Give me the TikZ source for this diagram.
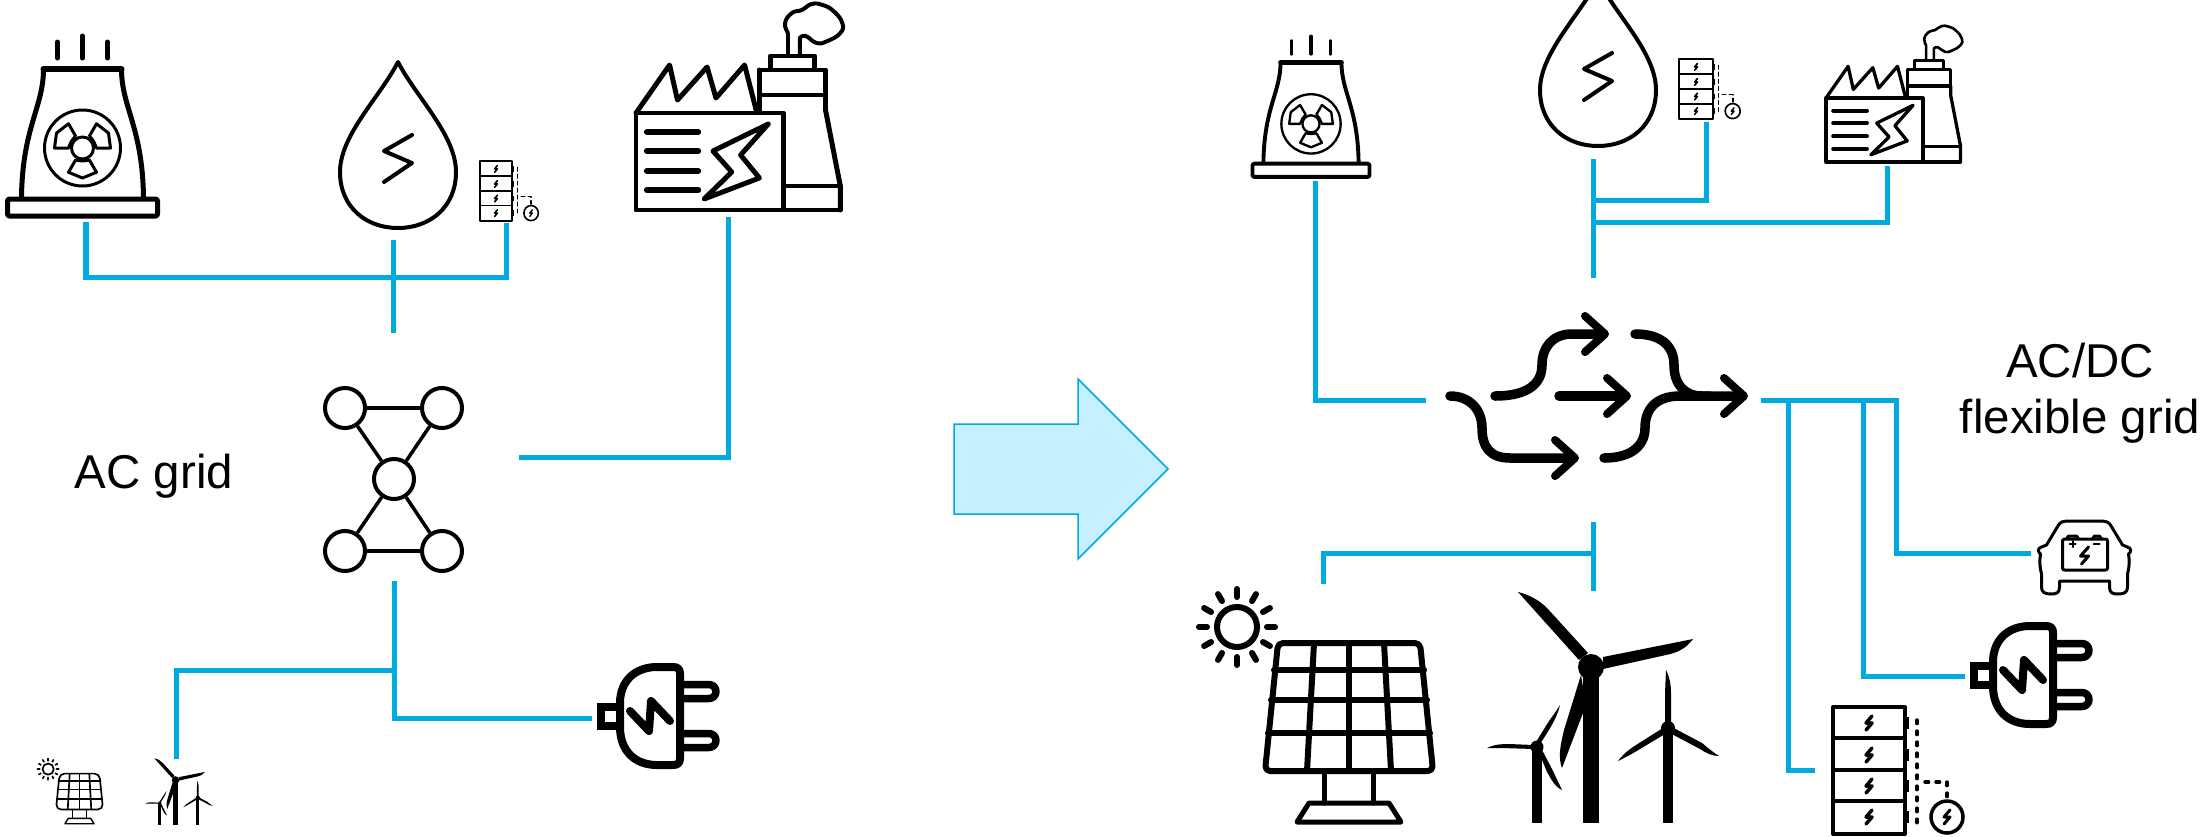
\documentclass[tikz,border=0pt]{standalone}
\usepackage{fontspec}
\setmainfont{Liberation Sans}
\usetikzlibrary{arrows.meta, positioning}
\definecolor{wireblue}{HTML}{00A9DE}
\definecolor{arrowfill}{HTML}{C5F0FF}
\def\ks{1}
\tikzset{
  ink/.style={draw=black, line width=#1*\ks*0.01cm, line join=round, line cap=round},
  icon size/.code 2 args={\pgfmathsetmacro\ks{(#1+#2)/2}\tikzset{xscale=#1,yscale=#2}},
  pics/tower/.style={code={
    \foreach \sx in {-25,25} \draw[ink=5] (\sx,-85) -- (\sx,-69);
    \draw[ink=5] (0,-91) -- (0,-69);
    \draw[ink=6] (-39,-58) -- (39,-58);
    \draw[ink=5] (-39,-58) .. controls (-39,-20) and (-60,0) .. (-61,70);
    \draw[ink=5] (39,-58) .. controls (39,-20) and (60,0) .. (61,70);
    \draw[ink=5, rounded corners=0.02cm] (-75,72) rectangle (75,89);
    \draw[ink=3] (0,21) circle[radius=38];
    \draw[ink=3] (0,21) circle[radius=11];
    \foreach \a in {90,210,330}
      \draw[ink=3, shift={(0,21)}] ({\a-30}:14) -- ({\a-30}:28) -- (\a:30) -- ({\a+30}:28) -- ({\a+30}:14) -- (\a:13) -- cycle;
  }},
  pics/droplet/.style={code={
    \draw[ink=4] (0,-83) .. controls (-18,-48) and (-58,-10) .. (-58,27)
      .. controls (-58,62) and (-32,83) .. (0,83)
      .. controls (32,83) and (58,62) .. (58,27)
      .. controls (58,-10) and (18,-48) .. cycle;
    \draw[ink=4] (14,-10) -- (-14,6) -- (14,18) -- (-14,37);
  }},
  pics/storage/.style={code={
    \pgfmathsetlengthmacro\dotgap{\ks*0.075cm}
    \draw[ink=4] (-36,-63) rectangle (36,64);
    \foreach \ly in {-32,0,31} \draw[ink=4] (-36,\ly) -- (36,\ly);
    \foreach \ly in {-47,-15,16,47} {
      \fill[black] (36,\ly-6) rectangle (40,\ly+6);
      \draw[ink=3.5] (3,\ly-7) -- (-3,\ly) -- (3,\ly) -- (-3,\ly+7);
    }
    \draw[ink=3.5, dash pattern=on 1pt off \dotgap] (48,-50) -- (48,53);
    \draw[ink=3.5, dash pattern=on 1pt off \dotgap] (56,12) -- (78,12) -- (78,30);
    \draw[ink=3.5] (78,47) circle[radius=16];
    \draw[ink=3, shift={(75,0)}] (6,40) -- (0,47) -- (6,47) -- (0,54);
  }},
  pics/factory/.style={code={
    \draw[ink=5] (0,0) -- (34,-48) -- (42,-13) -- (72,-46) -- (81,-15) -- (110,-48) -- (122,-2);
    \draw[ink=5] (125,-43) -- (125,-2);
    \draw[ink=5] (125,-43) rectangle (192,-18);
    \draw[ink=5] (192,-18) -- (192,-3) -- (207,73) -- (207,97);
    \draw[ink=5] (149,73) rectangle (207,97);
    \draw[ink=5] (136,-57) rectangle (181,-43);
    \draw[ink=5] (0,0) rectangle (149,97);
    \foreach \ly in {19,38,58,77} \draw[ink=6] (11,\ly) -- (63,\ly);
    \draw[ink=5] (134,11) -- (78,38) -- (97,59) -- (69,86) -- (125,65) -- (106,42) -- cycle;
    \draw[ink=4] (154,-57) -- (154,-80) plot[smooth, tension=0.8] coordinates {(154,-80) (151,-90) (158,-100) (168,-103) (178,-109) (189,-108) (200,-102) (209,-90) (207,-80) (194,-72) (183,-70) (172,-77) (166,-75)} -- (166,-57);
  }},
  pics/plug/.style={code={
    \draw[ink=8, line join=miter] (4,44) rectangle (27,63);
    \draw[ink=8, fill=white] (76,4) -- (60,4) .. controls (38,4) and (23,18) .. (23,40) -- (23,64)
      .. controls (23,88) and (38,102) .. (60,102) -- (76,102) .. controls (81,102) and (83,100) .. (83,95)
      -- (83,11) .. controls (83,6) and (81,4) .. (76,4) -- cycle;
    \foreach \ly in {28.5,77.5}
      \draw[ink=7.5] (85,\ly-7) -- (112,\ly-7) arc[start angle=-90, end angle=90, radius=7] -- (85,\ly+7);
    \draw[ink=8] (33,48) -- (52,68) -- (54,38) -- (73,58);
  }},
  pics/solarpanel/.style={code={
    \draw[ink=6, rounded corners=0.05cm] (-71,-64) -- (71,-64) -- (84,64) -- (-84,64) -- cycle;
    \draw[ink=6] (-75,-37) -- (75,-37);
    \draw[ink=6] (-78,-7) -- (78,-7);
    \draw[ink=6] (-81,26) -- (81,26);
    \draw[ink=6] (-35,-64) -- (-42,64);
    \draw[ink=6] (0,-64) -- (0,64);
    \draw[ink=6] (35,-64) -- (42,64);
    \draw[ink=5] (-25,64) -- (-25,96);
    \draw[ink=5] (24,64) -- (24,96);
    \draw[ink=5] (-40,96) -- (40,96) -- (52,115) -- (-52,115) -- cycle;
    \draw[ink=6] (-112,-80) circle[radius=20];
    \foreach \a in {0,30,...,330}
      \draw[ink=6, shift={(-112,-80)}] (\a:30) -- (\a:38);
  }},
  pics/turbines/.style={code={
    %% main turbine
    \fill[black] (0,0) circle[radius=13];
    \fill[black] (-8,8) -- (8,8) -- (8,156) -- (-8,156) -- cycle;
    \fill[black] (-73,-75) .. controls (-60,-72) and (-50,-65) .. (-44,-59) -- (-3,-14) -- (-12,-7) -- cycle;
    \fill[black] (102,-28) .. controls (95,-18) and (85,-14) .. (75,-12) -- (12,2) -- (12,-10) -- cycle;
    \fill[black] (-29,101) .. controls (-33,90) and (-31,80) .. (-27,63) -- (-10,8) -- (-5,38) -- cycle;
    %% left turbine
    \begin{scope}[shift={(-54,80)}]
      \fill[black] (0,0) circle[radius=6.5];
      \fill[black] (-5,3) -- (5,3) -- (5,76) -- (-5,76) -- cycle;
      \fill[black] (23,-42) .. controls (20,-28) and (10,-14) .. (3,-3) -- (-1,-5) -- (12,-26) .. controls (17,-33) and (20,-37) .. cycle;
      \fill[black] (-50,1) .. controls (-42,-3) and (-34,-3) .. (-28,-3) -- (-3,-2) -- (-3,2) -- (-36,1) -- cycle;
      \fill[black] (25,43) .. controls (18,40) and (14,32) .. (10,25) -- (1,3) -- (4,1) -- (15,22) -- cycle;
    \end{scope}
    %% right turbine
    \begin{scope}[shift={(77,61)}]
      \fill[black] (0,0) circle[radius=7];
      \fill[black] (-5,3) -- (5,3) -- (5,95) -- (-5,95) -- cycle;
      \fill[black] (-2,-58) .. controls (2,-50) and (3,-42) .. (3,-35) -- (3,-3) -- (-3,-3) -- (-3,-35) -- cycle;
      \fill[black] (-50,33) .. controls (-44,25) and (-38,21) .. (-32,17) -- (-2,-2) -- (2,3) -- (-28,21) .. controls (-36,26) and (-44,30) .. cycle;
      \fill[black] (51,28) .. controls (44,28) and (38,25) .. (32,21) -- (-2,3) -- (2,-2) -- (34,15) .. controls (40,20) and (46,25) .. cycle;
    \end{scope}
  }},
  pics/evcar/.style={code={
    \draw[ink=3] (-25,24) -- (-25,30) .. controls (-25,36) and (-28,37) .. (-34,37)
      .. controls (-40,37) and (-43,35) .. (-43,30) -- (-43,17) .. controls (-45,10) and (-45,3) .. (-44,-3)
      .. controls (-47,-5) and (-47,-9) .. (-43,-10) -- (-38,-12) -- (-26,-32)
      .. controls (-24,-35) and (-21,-36) .. (-18,-36) -- (18,-36)
      .. controls (21,-36) and (24,-35) .. (26,-32) -- (38,-12) -- (43,-10)
      .. controls (47,-9) and (47,-5) .. (44,-3) .. controls (45,3) and (45,10) .. (43,17)
      -- (43,30) .. controls (43,35) and (40,37) .. (34,37) .. controls (28,37) and (25,36) .. (25,30)
      -- (25,24) -- cycle;
    \draw[ink=3, rounded corners=0.02cm] (-22,-18) rectangle (23,13);
    \draw[ink=3] (-18,-18) -- (-16,-21) -- (-8,-21) -- (-6,-18);
    \draw[ink=3] (8,-18) -- (10,-21) -- (15,-21) -- (17,-18);
    \draw[ink=2] (-15,-13) -- (-9,-13) (-12,-16) -- (-12,-10);
    \draw[ink=2] (9,-13) -- (15,-13);
    \draw[ink=3] (4,-10) -- (-4,-1) -- (4,-1) -- (-3,7);
  }},
  pics/converter/.style={code={
    \draw[flowarr] (1450,396) .. controls (1470,396) and (1482,410) .. (1482,428)
      .. controls (1482,447) and (1490,458) .. (1510,458) -- (1579,458);
    \draw[flowarr] (1495,396) .. controls (1530,396) and (1542,382) .. (1542,365)
      .. controls (1542,348) and (1552,334) .. (1572,334) -- (1609,334);
    \draw[flowarr] (1559,396) -- (1631,396);
    \draw[flowarr] (1635,334) .. controls (1660,334) and (1674,345) .. (1674,365)
      .. controls (1674,385) and (1685,396) .. (1702,396) -- (1748,396);
    \draw[flowline] (1604,458) .. controls (1632,458) and (1645,445) .. (1645,428)
      .. controls (1645,410) and (1655,396) .. (1680,396) -- (1710,396);
  }}
}
\begin{document}
\begin{tikzpicture}[
    x=0.01cm, y=-0.01cm,
    wire/.style={draw=wireblue, line width=0.05cm, line join=miter},
    flowline/.style={draw=black, line width=0.095cm, line cap=round},
    flowarr/.style={flowline, -{Straight Barb[length=2mm, width=3.6mm, round, line width=0.08cm]}},
    gridbus/.style={circle, draw=black, line width=0.04cm, minimum size=0.4cm, inner sep=0pt},
    gridline/.style={draw=black, line width=0.035cm},
    caption/.style={font=\fontsize{13.5}{15.9}\selectfont, align=center, inner sep=0pt}
  ]
    \useasboundingbox (0,0) rectangle (2203,836);
    \clip (0,0) rectangle (2203,836);

    %% AC grid
    \pic at (82.5,127) {tower};
    \pic at (398,145) {droplet};
    \pic[icon size={0.45}{0.47}] at (496,191) {storage};
    \pic[icon size={0.987}{1}] at (636,113) {factory};
    \pic at (597,663) {plug};
    \pic[icon size={0.28}{0.28}] at (79.5,791.5) {solarpanel};
    \pic[icon size={0.29}{0.29}] at (175.5,780) {turbines};

    \node[gridbus] (gna) at (345,408) {};
    \node[gridbus] (gnb) at (442,408) {};
    \node[gridbus] (gnc) at (394,479) {};
    \node[gridbus] (gnd) at (345,551) {};
    \node[gridbus] (gne) at (442,551) {};
    \draw[gridline] (gna) -- (gnb);
    \draw[gridline] (gna) -- (gnc);
    \draw[gridline] (gnb) -- (gnc);
    \draw[gridline] (gnc) -- (gnd);
    \draw[gridline] (gnc) -- (gne);
    \draw[gridline] (gnd) -- (gne);
    \node[caption] (aclabel) at (154,476) {AC grid};

    \coordinate (acbus) at (393,277);
    \coordinate (towerfoot) at (86,222);
    \coordinate (batfoot) at (506,223);
    \coordinate (dropfoot) at (393,240);
    \coordinate (gridtop) at (393,333);
    \coordinate (factfoot) at (728,217);
    \coordinate (gridright) at (519,457);
    \coordinate (gridbot) at (394,581);
    \coordinate (plugend) at (592,718);
    \coordinate (renewend) at (176,759);
    \coordinate (renewtap) at (394,670);
    \draw[wire] (towerfoot) -- (towerfoot |- acbus) -- (batfoot |- acbus) -- (batfoot);
    \draw[wire] (dropfoot) -- (gridtop);
    \draw[wire] (factfoot) |- (gridright);
    \draw[wire] (gridbot) |- (plugend);
    \draw[wire] (renewtap) -| (renewend);

    %% transition arrow
    \draw[draw=wireblue, line width=0.015cm, fill=arrowfill] (954,424) -- (1078,424) -- (1078,379)
      -- (1168,469) -- (1078,559) -- (1078,514) -- (954,514) -- cycle;

    %% flexible grid
    \pic[icon size={0.78}{0.78}] at (1311,107.5) {tower};
    \pic at (1598,63) {droplet};
    \pic[icon size={0.47}{0.47}] at (1696,89) {storage};
    \pic[icon size={0.65}{0.66}] at (1826,98) {factory};
    \pic at (0,0) {converter};
    \pic at (1970,622) {plug};
    \pic at (1349,707) {solarpanel};
    \pic at (1591,667) {turbines};
    \pic at (1869,770) {storage};
    \pic at (2084.5,557) {evcar};
    \node[caption] (dclabel) at (2080,393) {AC/DC\\flexible grid};

    \coordinate (towerfootb) at (1315,181);
    \coordinate (convleft) at (1426,400);
    \coordinate (dropfootb) at (1593.5,159);
    \coordinate (convtop) at (1593.5,278);
    \coordinate (battap) at (1593.5,200);
    \coordinate (batfootb) at (1706.5,122);
    \coordinate (facttap) at (1593.5,222);
    \coordinate (factfootb) at (1887,166);
    \coordinate (convright) at (1761,400);
    \coordinate (buscorner) at (1896,400);
    \coordinate (cartap) at (2031,553);
    \coordinate (plugtap) at (1863,400);
    \coordinate (plugendb) at (1965,676);
    \coordinate (battap2) at (1788,400);
    \coordinate (batend) at (1815,770);
    \coordinate (convbot) at (1593.6,522);
    \coordinate (renewbot) at (1593.6,591);
    \coordinate (renewtapb) at (1593.6,553);
    \coordinate (solarend) at (1323.5,584);
    \draw[wire] (towerfootb) |- (convleft);
    \draw[wire] (dropfootb) -- (convtop);
    \draw[wire] (battap) -| (batfootb);
    \draw[wire] (facttap) -| (factfootb);
    \draw[wire] (convright) -- (buscorner) |- (cartap);
    \draw[wire] (plugtap) |- (plugendb);
    \draw[wire] (battap2) |- (batend);
    \draw[wire] (convbot) -- (renewbot);
    \draw[wire] (renewtapb) -| (solarend);
\end{tikzpicture}
\end{document}
